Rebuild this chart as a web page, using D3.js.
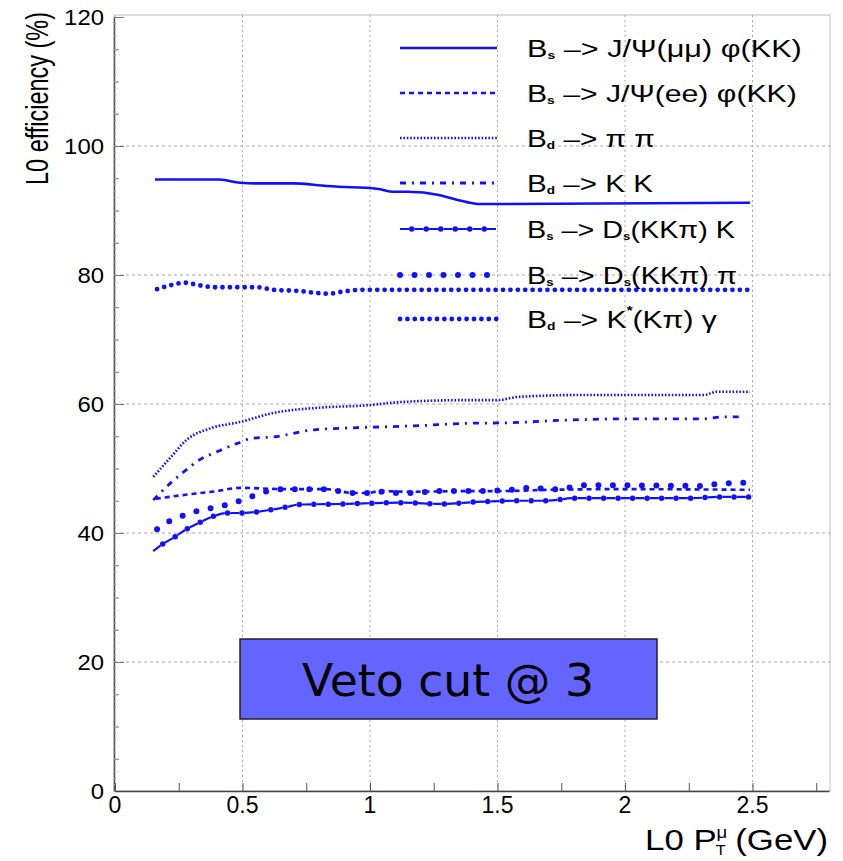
<!DOCTYPE html>
<html>
<head>
<meta charset="utf-8">
<script src="https://cdn.jsdelivr.net/npm/d3@7/dist/d3.min.js"></script>
<style>
  body { margin: 0; background: white; }
  text { font-family: "Liberation Sans", Arial, sans-serif; fill: black; }
</style>
</head>
<body>
<div class="mainVis"></div>
<script>
// values (x in GeV, y in %)
var mumuX = [0.157, 0.41, 0.49, 0.56, 0.70, 0.83, 0.93, 1.0, 1.04, 1.09, 1.15, 1.27, 1.30, 1.38, 1.43, 1.51, 2.49]
var mumuY = [94.8, 94.8, 94.3, 94.2, 94.2, 93.8, 93.6, 93.5, 93.3, 92.9, 92.9, 92.4, 92.1, 91.3, 91.0, 91.0, 91.2]

var eeX = [0.16, 0.27, 0.40, 0.49, 0.67, 0.83, 0.88, 0.93, 0.99, 1.04, 1.16, 1.38, 1.51, 1.71, 1.97, 2.49]
var eeY = [45.3, 45.9, 46.5, 47.0, 46.8, 46.8, 46.5, 46.2, 46.2, 46.5, 46.4, 46.5, 46.5, 46.7, 46.8, 46.7]

var pipiX = [0.15, 0.22, 0.28, 0.38, 0.49, 0.62, 0.79, 0.99, 1.12, 1.38, 1.5, 1.58, 1.84, 2.31, 2.36, 2.49]
var pipiY = [48.7, 51.8, 54.4, 56.3, 57.2, 58.6, 59.4, 59.8, 60.3, 60.6, 60.6, 61.1, 61.4, 61.4, 61.9, 61.9]

var kkX = [0.15, 0.20, 0.27, 0.33, 0.40, 0.48, 0.54, 0.62, 0.78, 1.01, 1.17, 1.38, 1.55, 1.77, 2.01, 2.31, 2.38, 2.46]
var kkY = [45.1, 47.1, 49.5, 51.3, 52.6, 53.9, 54.7, 54.9, 56.0, 56.4, 56.6, 57.0, 57.1, 57.5, 57.7, 57.7, 58.0, 58.0]

var dskX = [0.15, 0.18, 0.235, 0.28, 0.33, 0.38, 0.44, 0.50, 0.56, 0.61, 0.67, 0.72, 0.89, 1.12, 1.29, 1.41, 1.58, 1.69, 1.80, 2.26, 2.37, 2.49]
var dskY = [37.2, 38.1, 39.4, 40.6, 41.6, 42.5, 43.1, 43.1, 43.3, 43.6, 44.0, 44.4, 44.5, 44.7, 44.5, 44.8, 45.0, 45.0, 45.4, 45.4, 45.6, 45.6]

var dspiX = [0.165, 0.216, 0.267, 0.32, 0.37, 0.43, 0.49, 0.54, 0.60, 0.65, 0.71, 0.82, 0.88, 0.93, 0.99, 1.05, 1.11, 1.16, 1.27, 1.39, 1.56, 1.62, 1.73, 1.79, 1.84, 1.96, 2.29, 2.36, 2.41, 2.47]
var dspiY = [40.6, 41.9, 42.7, 43.4, 43.8, 44.3, 45.0, 45.7, 46.5, 46.8, 46.8, 46.8, 46.5, 46.2, 46.2, 46.4, 46.2, 46.2, 46.5, 46.5, 46.7, 47.0, 46.8, 47.1, 47.4, 47.4, 47.3, 47.6, 47.7, 47.8]

var kstX = [0.165, 0.216, 0.275, 0.33, 0.39, 0.5, 0.56, 0.62, 0.73, 0.79, 0.84, 0.89, 0.96, 1.12, 2.49]
var kstY = [77.8, 78.4, 78.8, 78.4, 78.1, 78.1, 78.1, 77.7, 77.5, 77.2, 77.1, 77.4, 77.7, 77.7, 77.7]

var legendLabels = [
  [["B", ""], ["s", "sub"], [" \u2013> J/\u03A8(\u03BC\u03BC) \u03C6(KK)", ""]],
  [["B", ""], ["s", "sub"], [" \u2013> J/\u03A8(ee) \u03C6(KK)", ""]],
  [["B", ""], ["d", "sub"], [" \u2013> \u03C0 \u03C0", ""]],
  [["B", ""], ["d", "sub"], [" \u2013> K K", ""]],
  [["B", ""], ["s", "sub"], [" \u2013> D", ""], ["s", "sub"], ["(KK\u03C0) K", ""]],
  [["B", ""], ["s", "sub"], [" \u2013> D", ""], ["s", "sub"], ["(KK\u03C0) \u03C0", ""]],
  [["B", ""], ["d", "sub"], [" \u2013> K", ""], ["*", "sup"], ["(K\u03C0) \u03B3", ""]]
]

var xTicks = [0, 0.5, 1, 1.5, 2, 2.5]
var yTicks = [0, 20, 40, 60, 80, 100, 120]

var series = [
  { x: mumuX, y: mumuY, style: "solid" },
  { x: eeX, y: eeY, style: "dash" },
  { x: pipiX, y: pipiY, style: "fine" },
  { x: kkX, y: kkY, style: "dashdot" },
  { x: dskX, y: dskY, style: "linedot" },
  { x: dspiX, y: dspiY, style: "bigdot" },
  { x: kstX, y: kstY, style: "densedot" }
]

var blue = "#1010ff"
var width = 843, height = 861
var plotLeft = 114, plotRight = 830, plotTop = 15, plotBottom = 791

var svg = d3.select(".mainVis").append("svg")
    .attr("width", width)
    .attr("height", height)

svg.append("rect").attr("width", width).attr("height", height).attr("fill", "white")

var x = d3.scaleLinear().domain([0, 2.8]).range([plotLeft + 1, plotLeft + 1 + 2.8 * 255])
var y = d3.scaleLinear().domain([0, 120]).range([plotBottom, plotTop + 2])

// squeeze/stretch a text horizontally so it spans a given width
function fit(t, w) {
  var b = t.node().getBBox()
  var anchor = t.attr("text-anchor") || "start"
  var ax = anchor == "end" ? b.x + b.width : (anchor == "middle" ? b.x + b.width / 2 : b.x)
  var s = w / b.width
  var old = t.attr("transform") || ""
  t.attr("transform", "translate(" + ax + ",0) scale(" + s + ",1) translate(" + (-ax) + ",0) " + old)
}

// frame
svg.append("rect")
    .attr("x", plotLeft).attr("y", plotTop)
    .attr("width", plotRight - plotLeft).attr("height", plotBottom - plotTop)
    .attr("fill", "none").attr("stroke", "#bbb").attr("stroke-width", 1)

// grid
svg.append("g").selectAll("line")
    .data(xTicks.filter(function(d) { return d > 0; }))
    .enter().append("line")
    .attr("x1", function(d) { return x(d); }).attr("x2", function(d) { return x(d); })
    .attr("y1", plotTop).attr("y2", plotBottom)
    .attr("stroke", "#aaa").attr("stroke-dasharray", "2,3")

svg.append("g").selectAll("line")
    .data(yTicks.filter(function(d) { return d > 0 && d < 120; }))
    .enter().append("line")
    .attr("x1", plotLeft).attr("x2", plotRight)
    .attr("y1", function(d) { return y(d); }).attr("y2", function(d) { return y(d); })
    .attr("stroke", "#aaa").attr("stroke-dasharray", "3,3")

// axes with ROOT-like inside ticks
var yAxis = d3.axisRight(y).tickValues(d3.range(0, 121, 5)).tickFormat("")
    .tickSize(5).tickSizeOuter(0)
var ga = svg.append("g").attr("transform", "translate(" + plotLeft + ",0)").call(yAxis)
ga.selectAll("line").attr("stroke", "#777")
ga.selectAll(".tick line").filter(function(d) { return d % 20 == 0; }).attr("x2", 10)
ga.select(".domain").attr("stroke", "#555").attr("stroke-width", 1.5)

svg.append("g").selectAll("line")
    .data(d3.range(0, 121, 1))
    .enter().append("line")
    .attr("x1", plotLeft).attr("x2", plotLeft + 2)
    .attr("y1", function(d) { return y(d); }).attr("y2", function(d) { return y(d); })
    .attr("stroke", "#999")

var xAxis = d3.axisTop(x).tickValues(d3.range(0, 2.8, 0.25)).tickFormat("")
    .tickSize(8).tickSizeOuter(0)
var gx = svg.append("g").attr("transform", "translate(0," + plotBottom + ")").call(xAxis)
gx.selectAll("line").attr("stroke", "#555")
gx.select(".domain").attr("stroke", "#444").attr("stroke-width", 1.5)

// tick labels
svg.append("g").selectAll("text")
    .data(xTicks).enter().append("text")
    .attr("x", function(d) { return x(d); })
    .attr("y", 813)
    .attr("text-anchor", "middle")
    .style("font-size", "23px")
    .text(function(d) { return d; })

svg.append("g").selectAll("text")
    .data(yTicks).enter().append("text")
    .attr("x", 104)
    .attr("y", function(d) { return y(d) + 8; })
    .attr("text-anchor", "end")
    .style("font-size", "22px")
    .text(function(d) { return d; })
    .each(function(d) { fit(d3.select(this), String(d).length * 13.3); })

// axis titles
var yl = svg.append("text")
    .attr("text-anchor", "end")
    .style("font-size", "31px")
    .text("L0 efficiency (%)")

var xl = svg.append("text")
    .attr("x", 828).attr("y", 850)
    .attr("text-anchor", "end")
    .style("font-size", "30px")
xl.append("tspan").text("L0 P")
xl.append("tspan").attr("dy", -12).style("font-size", "16px").text("\u03BC")
xl.append("tspan").attr("dx", -10).attr("dy", 17).style("font-size", "14px").text("T")
xl.append("tspan").attr("dy", -5).text(" (GeV)")

// curves
var line = d3.line()
    .x(function(d) { return x(d[0]); })
    .y(function(d) { return y(d[1]); })
    .curve(d3.curveMonotoneX)

function styled(p, style) {
  p.attr("fill", "none").attr("stroke", blue)
  if (style == "solid") p.attr("stroke-width", 2.6)
  if (style == "dash") p.attr("stroke-width", 2.6).attr("stroke-dasharray", "5,4")
  if (style == "fine") p.attr("stroke-width", 2.6).attr("stroke-dasharray", "1.6,1.8")
  if (style == "dashdot") p.attr("stroke-width", 2.8).attr("stroke-dasharray", "6,6,2,6")
  if (style == "linedot") p.attr("stroke-width", 2.2).attr("stroke-dasharray", "9,5.5")
  if (style == "bigdot") p.attr("stroke-width", 6).attr("stroke-linecap", "round").attr("stroke-dasharray", "0,14.5")
  if (style == "densedot") p.attr("stroke-width", 4.8).attr("stroke-linecap", "round").attr("stroke-dasharray", "0,7.4")
  return p
}

function drawStyled(g, pathD, style) {
  styled(g.append("path").attr("d", pathD), style)
  if (style == "linedot") {
    g.append("path").attr("d", pathD)
      .attr("fill", "none").attr("stroke", blue)
      .attr("stroke-width", 5.5).attr("stroke-linecap", "round")
      .attr("stroke-dasharray", "0,14.5").attr("stroke-dashoffset", -11.75)
  }
}

var curves = svg.append("g")
series.forEach(function(s) {
  var pts = s.x.map(function(v, i) { return [v, s.y[i]]; })
  drawStyled(curves.append("g"), line(pts), s.style)
})

// legend
var legendY = [48, 93, 138, 183, 229, 275, 319]
var legendEnd = [802, 797, 655, 653, 735, 737, 717]
var lg = svg.append("g")
series.forEach(function(s, i) {
  var ly = legendY[i]
  drawStyled(lg.append("g"), "M400," + ly + "H497", s.style)
  var t = lg.append("text")
      .attr("x", 527).attr("y", ly + 9)
      .style("font-size", "24px")
  var back = 0
  legendLabels[i].forEach(function(seg) {
    var ts = t.append("tspan").text(seg[0])
    if (seg[1] == "sub") { ts.style("font-size", "11px").style("font-weight", "bold").attr("dy", back + 2); back = -2 }
    else if (seg[1] == "sup") { ts.style("font-size", "12px").style("font-weight", "bold").attr("dy", back - 13); back = 13 }
    else { if (back) ts.attr("dy", back); back = 0 }
  })
  fit(t, legendEnd[i] - 527)
})

// veto box
svg.append("rect")
    .attr("x", 240).attr("y", 639)
    .attr("width", 417).attr("height", 80)
    .attr("fill", "#6464ff").attr("stroke", "#222").attr("stroke-width", 1.5)

var vt = svg.append("text")
    .attr("x", 448).attr("y", 696)
    .attr("text-anchor", "middle")
    .style("font-family", "'DejaVu Sans', Verdana, sans-serif")
    .style("font-size", "44px")
    .text("Veto cut @ 3")
fit(vt, 292)
fit(xl, 183)

// rotated title: stretch along its own reading direction
var yb = yl.node().getBBox()
yl.attr("transform", "translate(48,12) rotate(-90) scale(" + (173 / yb.width) + ",1)")
</script>
</body>
</html>
